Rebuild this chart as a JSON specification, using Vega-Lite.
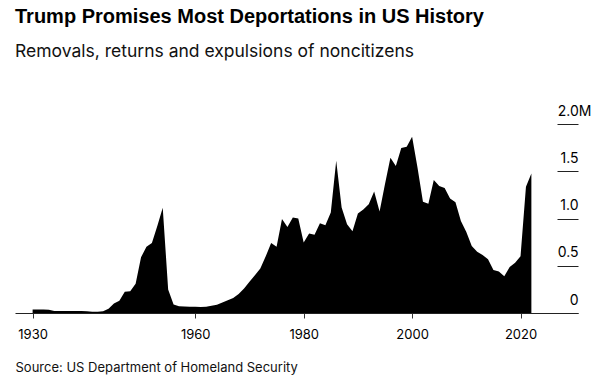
{
  "$schema": "https://vega.github.io/schema/vega-lite/v6.json",
  "width": 563,
  "height": 189,
  "autosize": {"type": "none"},
  "padding": {"left": 15, "top": 124, "right": 26, "bottom": 68},
  "background": "white",
  "config": {"view": {"stroke": null}},
  "title": {
    "text": "Trump Promises Most Deportations in US History",
    "subtitle": "Removals, returns and expulsions of noncitizens",
    "anchor": "start",
    "frame": "group",
    "orient": "top",
    "offset": 44,
    "font": "Liberation Sans",
    "fontSize": 20,
    "fontWeight": "bold",
    "color": "#000000",
    "subtitleFont": "Inter",
    "subtitleFontSize": 17.5,
    "subtitleColor": "#111111",
    "subtitlePadding": 16
  },
  "data": {
    "values": [
      {"year": 1930, "value": 0.038}, {"year": 1931, "value": 0.038}, {"year": 1932, "value": 0.037}, {"year": 1933, "value": 0.035},
      {"year": 1934, "value": 0.022}, {"year": 1935, "value": 0.020}, {"year": 1936, "value": 0.021}, {"year": 1937, "value": 0.022},
      {"year": 1938, "value": 0.022}, {"year": 1939, "value": 0.021}, {"year": 1940, "value": 0.018}, {"year": 1941, "value": 0.014},
      {"year": 1942, "value": 0.013}, {"year": 1943, "value": 0.018}, {"year": 1944, "value": 0.045}, {"year": 1945, "value": 0.10},
      {"year": 1946, "value": 0.13}, {"year": 1947, "value": 0.225}, {"year": 1948, "value": 0.23}, {"year": 1949, "value": 0.31},
      {"year": 1950, "value": 0.59}, {"year": 1951, "value": 0.70}, {"year": 1952, "value": 0.74}, {"year": 1953, "value": 0.92},
      {"year": 1954, "value": 1.115}, {"year": 1955, "value": 0.25}, {"year": 1956, "value": 0.09}, {"year": 1957, "value": 0.072},
      {"year": 1958, "value": 0.07}, {"year": 1959, "value": 0.067}, {"year": 1960, "value": 0.065}, {"year": 1961, "value": 0.063},
      {"year": 1962, "value": 0.066}, {"year": 1963, "value": 0.078}, {"year": 1964, "value": 0.087}, {"year": 1965, "value": 0.11},
      {"year": 1966, "value": 0.135}, {"year": 1967, "value": 0.16}, {"year": 1968, "value": 0.20}, {"year": 1969, "value": 0.26},
      {"year": 1970, "value": 0.33}, {"year": 1971, "value": 0.40}, {"year": 1972, "value": 0.47}, {"year": 1973, "value": 0.60},
      {"year": 1974, "value": 0.74}, {"year": 1975, "value": 0.70}, {"year": 1976, "value": 0.995}, {"year": 1977, "value": 0.91},
      {"year": 1978, "value": 1.01}, {"year": 1979, "value": 1.0}, {"year": 1980, "value": 0.745}, {"year": 1981, "value": 0.841},
      {"year": 1982, "value": 0.828}, {"year": 1983, "value": 0.951}, {"year": 1984, "value": 0.929}, {"year": 1985, "value": 1.064},
      {"year": 1986, "value": 1.611}, {"year": 1987, "value": 1.116}, {"year": 1988, "value": 0.938}, {"year": 1989, "value": 0.865},
      {"year": 1990, "value": 1.053}, {"year": 1991, "value": 1.094}, {"year": 1992, "value": 1.150}, {"year": 1993, "value": 1.286},
      {"year": 1994, "value": 1.075}, {"year": 1995, "value": 1.365}, {"year": 1996, "value": 1.643}, {"year": 1997, "value": 1.555},
      {"year": 1998, "value": 1.745}, {"year": 1999, "value": 1.758}, {"year": 2000, "value": 1.864}, {"year": 2001, "value": 1.538},
      {"year": 2002, "value": 1.177}, {"year": 2003, "value": 1.156}, {"year": 2004, "value": 1.407}, {"year": 2005, "value": 1.343},
      {"year": 2006, "value": 1.324}, {"year": 2007, "value": 1.211}, {"year": 2008, "value": 1.171}, {"year": 2009, "value": 0.974},
      {"year": 2010, "value": 0.856}, {"year": 2011, "value": 0.708}, {"year": 2012, "value": 0.647}, {"year": 2013, "value": 0.613},
      {"year": 2014, "value": 0.570}, {"year": 2015, "value": 0.455}, {"year": 2016, "value": 0.438}, {"year": 2017, "value": 0.388},
      {"year": 2018, "value": 0.488}, {"year": 2019, "value": 0.531}, {"year": 2020, "value": 0.600}, {"year": 2021, "value": 1.335},
      {"year": 2022, "value": 1.476}
    ]
  },
  "mark": {"type": "area", "color": "#000000", "interpolate": "linear"},
  "encoding": {
    "x": {
      "field": "year",
      "type": "quantitative",
      "scale": {"domain": [1926.75, 2030.6], "nice": false, "zero": false},
      "axis": {
        "values": [1930, 1960, 1980, 2000, 2020],
        "format": "d",
        "grid": false,
        "domainColor": "#222222",
        "domainWidth": 1,
        "tickColor": "#333333",
        "tickSize": 5,
        "labelFont": "Inter",
        "labelFontSize": 13,
        "labelColor": "#000000",
        "labelBaseline": "alphabetic",
        "labelPadding": 20.5,
        "labelFlush": false,
        "title": "Source: US Department of Homeland Security",
        "titleFont": "Inter",
        "titleFontSize": 13,
        "titleFontWeight": "normal",
        "titleColor": "#111111",
        "titleAnchor": "start",
        "titleAlign": "left",
        "titleBaseline": "alphabetic",
        "titleX": 0,
        "titleY": 58
      }
    },
    "y": {
      "field": "value",
      "type": "quantitative",
      "scale": {"domain": [0, 2], "nice": false},
      "axis": {
        "orient": "right",
        "values": [0, 0.5, 1, 1.5, 2],
        "domain": false,
        "grid": false,
        "ticks": true,
        "tickSize": -21,
        "tickColor": "#222222",
        "labelAlign": "right",
        "labelBaseline": "alphabetic",
        "labelOffset": -9,
        "labelPadding": {"condition": {"test": "datum.value > 1.9", "value": 34}, "value": 21},
        "labelFont": "Inter",
        "labelFontSize": 14,
        "labelColor": "#000000",
        "labelFlush": false,
        "labelExpr": "datum.value > 1.9 ? '2.0M' : datum.value < 0.1 ? '0' : format(datum.value, '.1f')",
        "title": null
      }
    }
  }
}
